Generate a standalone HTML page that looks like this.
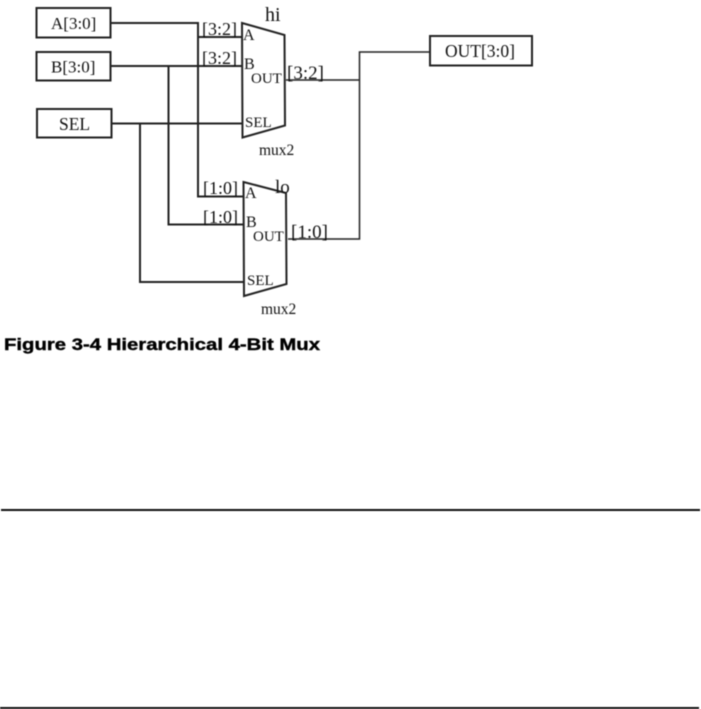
<!DOCTYPE html>
<html><head><meta charset="utf-8"><style>
html,body{margin:0;padding:0;background:#fff}
svg{display:block;filter:blur(.4px)}
text{font-family:"Liberation Serif",serif;fill:#111}
</style></head><body>
<svg width="701" height="709" viewBox="0 0 701 709" xmlns="http://www.w3.org/2000/svg">
<g fill="none" stroke="#222" stroke-width="2">
<rect x="36.500" y="8" width="74" height="29.500"/>
<rect x="36.500" y="52" width="74" height="28.500"/>
<rect x="37" y="109" width="74.500" height="28.500"/>
<rect x="430" y="36" width="102" height="29.500"/>
<polygon points="242,23 284.500,35 285,125.500 242.500,137.500"/>
<polygon points="243.500,182 286,193 286.500,284 244,296"/>
<path d="M110 23H198V196.500H243"/>
<path d="M198 37H242"/>
<path d="M110 66H242"/>
<path d="M168.500 66V224.500H243"/>
<path d="M111 123.500H242"/>
<path d="M140 123.500V282H243"/>
</g>
<g fill="none" stroke="#222" stroke-width="1.500">
<path d="M286 80H359"/>
<path d="M288 239H359.500V52H430"/>
</g>
<g font-size="17">
<text x="51" y="29">A[3:0]</text>
<text x="51" y="72.500">B[3:0]</text>
<text x="59" y="130" font-size="17.500">SEL</text>
<text x="445" y="57" font-size="17.500">OUT[3:0]</text>
<text x="265" y="21" font-size="20">hi</text>
<text x="202" y="35" font-size="18">[3:2]</text>
<text x="202" y="64" font-size="18">[3:2]</text>
<text x="287" y="79" font-size="19">[3:2]</text>
<text x="203" y="194" font-size="18">[1:0]</text>
<text x="203" y="223" font-size="18">[1:0]</text>
<text x="291" y="238" font-size="19">[1:0]</text>
<text x="275" y="193" font-size="19">lo</text>
</g>
<g font-size="15">
<text x="243" y="40" font-size="16">A</text>
<text x="244" y="69" font-size="16">B</text>
<text x="251" y="83">OUT</text>
<text x="245" y="127">SEL</text>
<text x="245" y="198" font-size="16">A</text>
<text x="246" y="227" font-size="16">B</text>
<text x="253" y="241">OUT</text>
<text x="247" y="285">SEL</text>
<text x="259" y="155" font-size="15.500">mux2</text>
<text x="261" y="314" font-size="15.500">mux2</text>
</g>
<text x="4" y="350" style="font-family:'Liberation Sans',sans-serif;font-weight:bold;font-size:17px;fill:#000;stroke:#000;stroke-width:.4" textLength="316" lengthAdjust="spacingAndGlyphs">Figure 3-4 Hierarchical 4-Bit Mux</text>
<rect x="1" y="509" width="699" height="2" fill="#111"/>
<rect x="0" y="707" width="699" height="2" fill="#111"/>
</svg>
</body></html>
